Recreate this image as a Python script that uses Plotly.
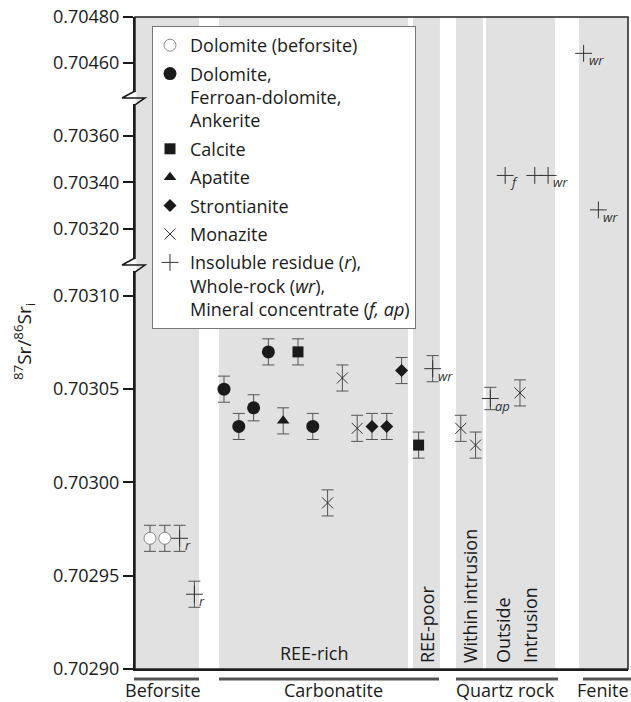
import plotly.graph_objects as go

# ---------------- data ----------------
# x = sample slot along the horizontal axis, y = 87Sr/86Sr initial, e = 2-sigma error
dolo_bef_x = [1, 2]
dolo_bef_y = [0.70297, 0.70297]
dolo_bef_e = [0.000007, 0.000007]

dolo_x = [6, 7, 8, 9, 12]
dolo_y = [0.70305, 0.70303, 0.70304, 0.70307, 0.70303]
dolo_e = [0.000007, 0.000007, 0.000007, 0.000007, 0.000007]

calc_x = [11, 19.15]
calc_y = [0.70307, 0.70302]
calc_e = [0.000007, 0.000007]

apat_x = [10]
apat_y = [0.703033]
apat_e = [0.000007]

stro_x = [16, 17, 18]
stro_y = [0.70303, 0.70303, 0.70306]
stro_e = [0.000007, 0.000007, 0.000007]

mona_x = [13, 14, 15, 22, 23, 26]
mona_y = [0.702989, 0.703056, 0.703029, 0.703029, 0.70302, 0.703048]
mona_e = [0.000007, 0.000007, 0.000007, 0.000007, 0.000007, 0.000007]

plus_x = [3, 4, 20.1, 24, 25, 27, 27.9, 30.3, 31.3]
plus_y = [0.70297, 0.70294, 0.703061, 0.703045, 0.70343, 0.70343, 0.70343, 0.704642, 0.703282]
plus_e = [0.000007, 0.000007, 0.000007, 0.000006, 0, 0, 0, 0, 0]
plus_lbl = ["r", "r", "wr", "ap", "f", "", "wr", "wr", "wr"]

legend_names = [
    "Dolomite (beforsite)",
    "Dolomite,<br>Ferroan-dolomite,<br>Ankerite",
    "Calcite",
    "Apatite",
    "Strontianite",
    "Monazite",
    "Insoluble residue (<i>r</i>),<br>Whole-rock (<i>wr</i>),<br>Mineral concentrate (<i>f, ap</i>)",
]

# axis segments (broken y axis)
seg_axes = ["y", "y2", "y3"]
seg_ranges = [[0.7028999, 0.7031166], [0.703045, 0.703763], [0.704448, 0.70480005]]
seg_domains = [[0, 0.6196], [0.6196, 0.8758], [0.8758, 1]]
seg_dticks = [0.00005, 0.0002, 0.0002]

bands = [[0, 4.31], [5.66, 18.43], [18.77, 20.59], [21.68, 23.5], [23.7, 28.36], [29.99, 33.4]]
x_range = [-0.0135, 33.3]

groups = ["Beforsite", "Carbonatite", "Quartz rock", "Fenite"]
group_px = [[134, 199], [219, 439], [456, 558], [583, 631]]
group_lbl_px = [163, 333, 505, 603]

FONT = "Open Sans"
INK = "#1a1a1a"
ERR = "#555555"
BAND = "#e1e1e1"

fig = go.Figure()


def seg_of(v):
    for i, (lo, hi) in enumerate(seg_ranges):
        if lo <= v <= hi and (i == 0 or v > seg_ranges[i - 1][1]):
            return i
    return 0


def add_series(name, xs, ys, es, marker):
    first = True
    for si, ax in enumerate(seg_axes):
        idx = [i for i, v in enumerate(ys) if seg_of(v) == si]
        if not idx:
            continue
        ex = [es[i] for i in idx]
        fig.add_trace(go.Scatter(
            x=[xs[i] for i in idx],
            y=[ys[i] for i in idx],
            xaxis="x",
            yaxis=ax,
            name=name,
            legendgroup=name,
            showlegend=first,
            mode="markers",
            marker=marker,
            error_y=dict(type="data", array=ex, visible=any(e > 0 for e in ex),
                         color=ERR, thickness=1, width=6),
            cliponaxis=False,
        ))
        first = False


add_series(legend_names[0], dolo_bef_x, dolo_bef_y, dolo_bef_e,
           dict(symbol="circle", size=12, color="white", line=dict(color="#888", width=1)))
add_series(legend_names[1], dolo_x, dolo_y, dolo_e,
           dict(symbol="circle", size=13, color=INK, line=dict(width=0)))
add_series(legend_names[2], calc_x, calc_y, calc_e,
           dict(symbol="square", size=11, color=INK, line=dict(width=0)))
add_series(legend_names[3], apat_x, apat_y, apat_e,
           dict(symbol="triangle-up", size=11, color=INK, line=dict(width=0)))
add_series(legend_names[4], stro_x, stro_y, stro_e,
           dict(symbol="diamond", size=10, color=INK, line=dict(width=0)))
add_series(legend_names[5], mona_x, mona_y, mona_e,
           dict(symbol="x-thin", size=11, color=INK, line=dict(color="#333", width=1)))
add_series(legend_names[6], plus_x, plus_y, plus_e,
           dict(symbol="cross-thin", size=12, color=INK, line=dict(color="#333", width=1)))

shapes = []
# grey sample bands
for b in bands:
    shapes.append(dict(type="rect", xref="x", yref="paper", x0=b[0], x1=b[1], y0=0, y1=1,
                       fillcolor=BAND, line=dict(width=0), layer="below"))
# frame
shapes.append(dict(type="rect", xref="paper", yref="paper", x0=0, x1=1, y0=0, y1=1,
                   line=dict(color="#222", width=1.5), layer="above"))
# axis breaks
for d in seg_domains[1:]:
    shapes.append(dict(type="rect", xref="paper", yref="paper", xsizemode="pixel", ysizemode="pixel",
                       xanchor=0, yanchor=d[0], x0=-2.2, x1=1.4, y0=-6, y1=6,
                       fillcolor="white", line=dict(width=0), layer="above"))
    shapes.append(dict(type="path", xref="paper", yref="paper", xsizemode="pixel", ysizemode="pixel",
                       xanchor=0, yanchor=d[0], path="M 0,7 L -13,0 L 10,0 L 0,-7",
                       line=dict(color=INK, width=1.5), layer="above"))
# group underlines
W = 493.0
for gpx in group_px:
    shapes.append(dict(type="line", xref="paper", yref="paper",
                       x0=(gpx[0] - 135) / W, x1=(gpx[1] - 135) / W, y0=-0.0153, y1=-0.0153,
                       line=dict(color="#555", width=3), layer="above"))

annotations = []
# italic sample-type labels beside the "+" marks
for xv, yv, lb in zip(plus_x, plus_y, plus_lbl):
    if not lb:
        continue
    annotations.append(dict(text="<i>%s</i>" % lb, x=xv, y=yv, xref="x", yref=seg_axes[seg_of(yv)],
                            xanchor="left", yanchor="middle", xshift=3, yshift=-7, showarrow=False,
                            font=dict(family=FONT, size=13, color="#333")))
for g, px in zip(groups, group_lbl_px):
    annotations.append(dict(text=g, xref="paper", yref="paper", x=(px - 135) / W, y=-0.0325,
                            xanchor="center", yanchor="middle", showarrow=False,
                            font=dict(family=FONT, size=18, color=INK)))
# in-panel labels
annotations.append(dict(text="REE-rich", xref="paper", yref="paper", x=(314 - 135) / W, y=0.0245,
                        xanchor="center", yanchor="middle", showarrow=False,
                        font=dict(family=FONT, size=18, color=INK)))
for txt, px in [("REE-poor", 427), ("Within intrusion", 470), ("Outside", 503), ("Intrusion", 530)]:
    annotations.append(dict(text=txt, xref="paper", yref="paper", x=(px - 135) / W, y=0.006,
                            xanchor="center", yanchor="bottom", textangle=-90, showarrow=False,
                            font=dict(family=FONT, size=18, color=INK)))
# y title
annotations.append(dict(text="<sup>87</sup>Sr/<sup>86</sup>Sr<sub>i</sub>", xref="paper", yref="paper",
                        x=(24 - 135) / W, y=0.5015, xanchor="center", yanchor="middle",
                        textangle=-90, showarrow=False, font=dict(family=FONT, size=19, color=INK)))

layout = dict(
    width=631, height=702,
    margin=dict(l=135, r=3, t=17, b=33),
    paper_bgcolor="white", plot_bgcolor="white",
    font=dict(family=FONT, size=18, color=INK),
    showlegend=True,
    legend=dict(x=(152 - 135) / W, y=(669 - 26) / 652, xanchor="left", yanchor="top",
                bgcolor="white", bordercolor="#777", borderwidth=1,
                font=dict(family=FONT, size=18, color=INK), valign="top",
                tracegroupgap=2, itemwidth=30, indentation=-3),
    xaxis=dict(range=x_range, showline=True, linecolor=INK, linewidth=2, showticklabels=False,
               ticks="", showgrid=False, zeroline=False, anchor="y"),
    shapes=shapes,
    annotations=annotations,
)
for i, ax in enumerate(seg_axes):
    key = "yaxis" if i == 0 else "yaxis%d" % (i + 1)
    layout[key] = dict(range=seg_ranges[i], domain=seg_domains[i], anchor="x",
                       tick0=0.7, dtick=seg_dticks[i], tickformat=".5f",
                       showline=True, linecolor=INK, linewidth=2,
                       ticks="outside", ticklen=10, tickwidth=1.5, tickcolor=INK,
                       showgrid=False, zeroline=False,
                       tickfont=dict(family=FONT, size=18, color=INK))
fig.update_layout(**layout)

fig.write_html("out.html")
